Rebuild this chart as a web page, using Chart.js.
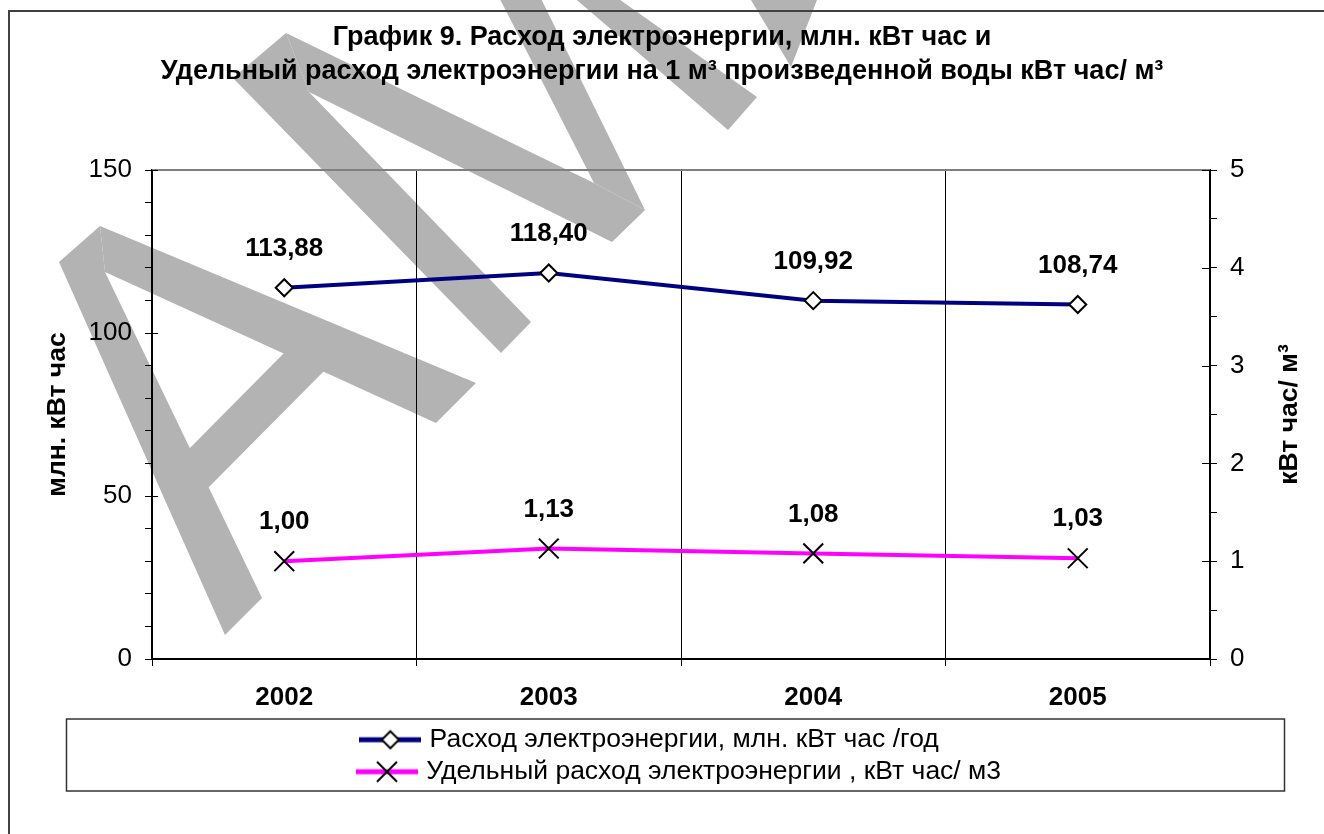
<!DOCTYPE html>
<html>
<head>
<meta charset="utf-8">
<style>
  html, body { margin: 0; padding: 0; background: #fff; }
  #wrap { width: 1324px; height: 834px; }
  canvas { display: block; }
</style>
</head>
<body>
<div id="wrap"><canvas id="myChart" width="1324" height="834"></canvas></div>

<script src="https://cdn.jsdelivr.net/npm/chart.js"></script>

<script>
    const years = ['2002', '2003', '2004', '2005'];
    const energyUse = [113.88, 118.40, 109.92, 108.74];
    const specificUse = [1.00, 1.13, 1.08, 1.03];
    const leftTicks = [0, 50, 100, 150];
    const rightTicks = [0, 1, 2, 3, 4, 5];
    const seriesNames = [
        'Расход электроэнергии, млн. кВт час /год',
        'Удельный расход электроэнергии , кВт час/ м3'
    ];
    const chartTitle = [
        'График 9. Расход электроэнергии, млн. кВт час и',
        'Удельный расход электроэнергии на 1 м³ произведенной воды кВт час/ м³'
    ];
    const leftTitle = 'млн. кВт час';
    const rightTitle = 'кВт час/ м³';

    const FONT = '"Liberation Sans", Arial, sans-serif';
    Chart.defaults.font.family = FONT;
    Chart.defaults.color = '#000';

    const ctx = document.getElementById('myChart');

    // legend symbol: thick line with the marker in the middle
    function legendGlyph(color, style) {
        const cv = document.createElement('canvas');
        cv.width = 62;
        cv.height = 24;
        const g = cv.getContext('2d');
        g.strokeStyle = color;
        g.lineWidth = 5;
        g.beginPath();
        g.moveTo(0, 12);
        g.lineTo(62, 12);
        g.stroke();
        g.strokeStyle = '#000';
        g.fillStyle = '#fff';
        g.lineWidth = 2;
        if (style === 'rectRot') {
            g.beginPath();
            g.moveTo(31 - 8.5, 12); g.lineTo(31, 12 - 8.5);
            g.lineTo(31 + 8.5, 12); g.lineTo(31, 12 + 8.5);
            g.closePath();
            g.fill(); g.stroke();
        } else {
            g.beginPath();
            g.moveTo(21, 2); g.lineTo(41, 22);
            g.moveTo(41, 2); g.lineTo(21, 22);
            g.stroke();
        }
        return cv;
    }
    const glyphs = [legendGlyph('#000080', 'rectRot'), legendGlyph('#ff00ff', 'crossRot')];

    // grey watermark letters behind the chart
    const watermark = [
        [[59, 262], [100, 226], [105, 272], [262, 598], [225, 635]],
        [[100, 226], [476, 383], [436, 423], [105, 272]],
        [[185, 453], [288, 349], [328, 367], [204, 492]],
        [[233, 78], [286, 33], [309, 92], [531, 322], [501, 353]],
        [[286, 33], [594, 183], [645, 210], [612, 242], [309, 92]],
        [[480, -40], [522, -40], [645, 210], [594, 183]],
        [[542, -30], [578, -30], [757, 97], [728, 130]],
        [[745, -10], [822, -10], [817, 0], [791, 67]]
    ];

    const decor = {
        id: 'decor',
        beforeDraw(chart) {
            const c = chart.ctx;
            c.save();
            c.fillStyle = '#fff';
            c.fillRect(0, 0, chart.width, chart.height);
            c.fillStyle = '#b3b3b3';
            watermark.forEach(poly => {
                c.beginPath();
                poly.forEach(([x, y], i) => i ? c.lineTo(x, y) : c.moveTo(x, y));
                c.closePath();
                c.fill();
            });
            c.strokeStyle = '#404040';
            c.lineWidth = 2;
            c.beginPath();
            c.moveTo(9, chart.height + 5);
            c.lineTo(9, 11);
            c.lineTo(chart.width + 5, 11);
            c.stroke();
            c.restore();
        },
        beforeDatasetsDraw(chart) {
            const c = chart.ctx;
            const a = chart.chartArea;
            c.save();
            c.strokeStyle = '#808080';
            c.lineWidth = 2;
            c.beginPath();
            c.moveTo(a.left, a.top);
            c.lineTo(a.right, a.top);
            c.stroke();
            // major ticks cross the axis lines
            c.strokeStyle = '#000';
            c.lineWidth = 1;
            c.beginPath();
            leftTicks.forEach(v => {
                const py = Math.round(chart.scales.y.getPixelForValue(v)) + 0.5;
                c.moveTo(a.left, py);
                c.lineTo(a.left + 6, py);
            });
            rightTicks.forEach(v => {
                const py = Math.round(chart.scales.y1.getPixelForValue(v)) + 0.5;
                c.moveTo(a.right - 8, py);
                c.lineTo(a.right, py);
            });
            c.stroke();
            c.restore();
        },
        afterDatasetsDraw(chart) {
            const c = chart.ctx;
            c.save();
            c.font = 'bold 26px ' + FONT;
            c.fillStyle = '#000';
            c.textAlign = 'center';
            c.textBaseline = 'middle';
            chart.data.datasets.forEach((ds, i) => {
                chart.getDatasetMeta(i).data.forEach((pt, j) => {
                    c.fillText(ds.data[j].toFixed(2).replace('.', ','), pt.x, pt.y - 39);
                });
            });
            c.restore();
        },
        afterDraw(chart) {
            const c = chart.ctx;
            const a = chart.chartArea;
            const lg = chart.legend;
            c.save();
            c.strokeStyle = '#333';
            c.lineWidth = 1.5;
            c.strokeRect(66.5, lg.top - 2, 1284 - 66, 72);
            c.font = 'bold 26.5px ' + FONT;
            c.fillStyle = '#000';
            c.textAlign = 'center';
            c.textBaseline = 'middle';
            c.translate(1290, (a.top + a.bottom) / 2);
            c.rotate(-Math.PI / 2);
            c.fillText(rightTitle, 0, 0);
            c.restore();
        }
    };

    const data = {
        labels: years,
        datasets: [{
            label: seriesNames[0],
            data: energyUse,
            yAxisID: 'y',
            borderColor: '#000080',
            borderWidth: 4,
            pointStyle: 'rectRot',
            pointRadius: 8.5,
            pointBorderWidth: 2,
            pointBorderColor: '#000',
            pointBackgroundColor: '#fff',
            tension: 0
        }, {
            label: seriesNames[1],
            data: specificUse,
            yAxisID: 'y1',
            borderColor: '#ff00ff',
            borderWidth: 4,
            pointStyle: 'crossRot',
            pointRadius: 14,
            pointBorderWidth: 2,
            pointBorderColor: '#000',
            pointBackgroundColor: '#000',
            tension: 0
        }]
    };

    const config = {
        type: 'line',
        data: data,
        plugins: [decor],
        options: {
            responsive: false,
            animation: false,
            events: [],
            layout: { padding: { left: 0, right: 0, top: 0, bottom: 39 } },
            scales: {
                x: {
                    offset: true,
                    grid: { offset: true, color: '#000', lineWidth: 1, tickLength: 7 },
                    border: { color: '#000', width: 2 },
                    ticks: { font: { size: 26, weight: 'bold' }, padding: 16 },
                    afterFit: s => { s.height = 62; }
                },
                y: {
                    position: 'left',
                    min: 0,
                    max: 150,
                    grid: { drawOnChartArea: false, color: '#000', tickLength: 7 },
                    border: { color: '#000', width: 2 },
                    ticks: {
                        stepSize: 10,
                        autoSkip: false,
                        font: { size: 26 },
                        padding: 13,
                        callback: v => leftTicks.includes(v) ? String(v) : ''
                    },
                    title: {
                        display: true,
                        text: leftTitle,
                        font: { size: 26.5, weight: 'bold' },
                        padding: { top: 42, bottom: 0 }
                    },
                    afterFit: s => { s.width = 152; }
                },
                y1: {
                    position: 'right',
                    min: 0,
                    max: 5,
                    grid: { drawOnChartArea: false, color: '#000', tickLength: 7 },
                    border: { color: '#000', width: 2 },
                    ticks: {
                        stepSize: 0.5,
                        autoSkip: false,
                        font: { size: 26 },
                        padding: 13,
                        callback: v => rightTicks.includes(v) ? String(v) : ''
                    },
                    afterFit: s => { s.width = 1324 - 1210; }
                }
            },
            plugins: {
                title: {
                    display: true,
                    text: chartTitle,
                    font: { size: 27, weight: 'bold', lineHeight: '34px' },
                    color: '#000',
                    padding: { top: 21, bottom: 81 }
                },
                legend: {
                    position: 'bottom',
                    fullSize: false,
                    labels: {
                        usePointStyle: true,
                        pointStyleWidth: 52,
                        padding: 5.5,
                        font: { size: 26.5 },
                        color: '#000',
                        generateLabels: chart => {
                            const items = Chart.defaults.plugins.legend.labels.generateLabels(chart);
                            const c = chart.ctx;
                            c.save();
                            c.font = '26.5px ' + FONT;
                            const widest = Math.max(...items.map(it => c.measureText(it.text).width));
                            items.forEach((it, i) => {
                                it.pointStyle = glyphs[i];
                                while (c.measureText(it.text + ' ').width <= widest) it.text += ' ';
                            });
                            c.restore();
                            return items;
                        }
                    }
                },
                tooltip: { enabled: false }
            }
        }
    };

    new Chart(ctx, config);
</script>
</body>
</html>
